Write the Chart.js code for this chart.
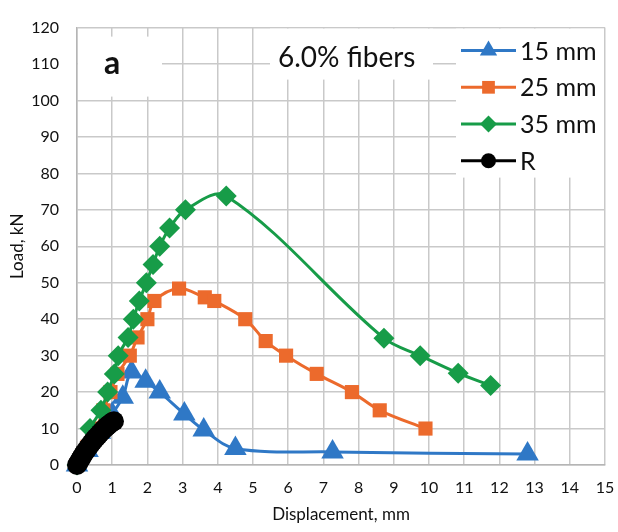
<!DOCTYPE html>
<html>
<head>
<meta charset="utf-8">
<script src="https://cdn.jsdelivr.net/npm/chart.js@4.4.1/dist/chart.umd.min.js"></script>
<style>
  html, body { margin: 0; padding: 0; background: #fff; }
  canvas { display: block; }
</style>
</head>
<body>
<canvas id="loadChart" width="618" height="532"></canvas>
<script>
// Load vs displacement, 6.0% fibers
var x15 = [0, 0.3, 0.65, 1.0, 1.3, 1.55, 1.95, 2.35, 3.05, 3.6, 4.5, 7.26, 12.8];
var y15 = [0, 4, 9, 14, 18.6, 25.5, 23, 20, 14, 9.6, 4.5, 3.6, 3.0];

var x25 = [0, 0.3, 0.55, 0.75, 0.95, 1.15, 1.5, 1.72, 2.0, 2.2, 2.9, 3.63, 3.9, 4.78, 5.36, 5.94, 6.81, 7.81, 8.6, 9.9];
var y25 = [0, 5, 10, 15, 20, 25, 30, 35, 40, 45, 48.4, 46, 45, 40, 34, 30, 25, 20, 15, 10];

var x35 = [0, 0.37, 0.68, 0.87, 1.06, 1.17, 1.45, 1.6, 1.77, 1.97, 2.16, 2.35, 2.63, 3.08, 4.24, 8.72, 9.75, 10.83, 11.75];
var y35 = [0, 10, 15, 20, 25, 30, 35, 40, 45, 50, 55, 60, 65, 70, 73.8, 34.8, 30, 25.2, 21.8];

var xR = [0, 0.04, 0.08, 0.12, 0.16, 0.2, 0.25, 0.3, 0.35, 0.4, 0.45, 0.5, 0.55, 0.6, 0.65, 0.7, 0.75, 0.8, 0.85, 0.9, 0.95, 1.0, 1.05];
var yR = [0, 0.6, 1.3, 1.9, 2.6, 3.2, 3.9, 4.6, 5.2, 5.9, 6.5, 7.1, 7.6, 8.1, 8.7, 9.2, 9.7, 10.2, 10.6, 11.0, 11.4, 11.8, 12.0];

var seriesNames = ['15 mm', '25 mm', '35 mm', 'R'];
var xTicks = [0, 15, 1];     // min, max, step
var yTicks = [0, 120, 10];

var BLUE = '#2f78c6', ORANGE = '#ec6a2c', GREEN = '#179c48', BLACK = '#000000';
var FONT = 'Lato, "Open Sans", sans-serif';

function pts(xs, ys) {
    var out = [];
    xs.forEach((x, i) => out.push({x: x, y: ys[i]}));
    return out;
}

function series(label, xs, ys, color, style, radius, order) {
    return {
        label: label,
        data: pts(xs, ys),
        showLine: true,
        borderColor: color,
        backgroundColor: color,
        borderWidth: 3,
        tension: 0.35,
        pointStyle: style,
        pointRadius: radius,
        pointHoverRadius: radius,
        pointBorderWidth: 0,
        clip: false,
        order: order
    };
}

var legendItems = [
    {name: seriesNames[0], color: BLUE, style: 'triangle', r: 10},
    {name: seriesNames[1], color: ORANGE, style: 'rect', r: 9},
    {name: seriesNames[2], color: GREEN, style: 'rectRot', r: 8.5},
    {name: seriesNames[3], color: BLACK, style: 'circle', r: 7.5}
];

// white boxes, caption, panel letter and legend inside the plot area
var overlay = {
    id: 'overlay',
    afterDatasetsDraw(chart) {
        var ctx = chart.ctx, a = chart.chartArea;
        ctx.save();
        ctx.fillStyle = '#ffffff';
        ctx.fillRect(a.left + 1, a.top + 9, 84, 60);       // "a"
        ctx.fillRect(a.left + 193, a.top + 1, 163, 51);    // caption
        ctx.fillRect(a.right - 149, a.top + 1, 148, 149);  // legend

        ctx.fillStyle = '#111';
        ctx.textBaseline = 'middle';
        ctx.textAlign = 'left';
        ctx.font = 'bold 32px ' + FONT;
        ctx.fillText('a', a.left + 27, a.top + 36);
        ctx.font = '28px ' + FONT;
        ctx.fillText('6.0% fibers', a.left + 201, a.top + 30);

        ctx.font = '25px ' + FONT;
        legendItems.forEach((it, i) => {
            var y = a.top + 23 + i * 36.7;
            var x0 = a.right - 144, x1 = a.right - 89;
            ctx.strokeStyle = it.color;
            ctx.lineWidth = 3;
            ctx.beginPath();
            ctx.moveTo(x0, y);
            ctx.lineTo(x1, y);
            ctx.stroke();
            ctx.fillStyle = it.color;
            Chart.helpers.drawPoint(ctx, {pointStyle: it.style, radius: it.r, borderWidth: 0}, (x0 + x1) / 2, y);
            ctx.fillStyle = '#111';
            ctx.fillText(it.name, x1 + 4, y + 1);
        });
        ctx.restore();
    }
};

new Chart(document.getElementById('loadChart'), {
    type: 'scatter',
    data: {
        datasets: [
            series(seriesNames[0], x15, y15, BLUE, 'triangle', 13, 4),
            series(seriesNames[1], x25, y25, ORANGE, 'rect', 10, 3),
            series(seriesNames[2], x35, y35, GREEN, 'rectRot', 10.5, 2),
            series(seriesNames[3], xR, yR, BLACK, 'circle', 10, 1)
        ]
    },
    options: {
        responsive: false,
        devicePixelRatio: 1,
        animation: false,
        layout: {padding: {top: 23, right: 11, left: 0, bottom: 0}},
        plugins: {legend: {display: false}, tooltip: {enabled: false}},
        scales: {
            x: {
                type: 'linear',
                min: xTicks[0], max: xTicks[1],
                ticks: {stepSize: xTicks[2], color: '#111', padding: 13, font: {family: FONT, size: 16}},
                grid: {color: '#c9c9c9', lineWidth: 1.5, drawTicks: false},
                border: {color: '#b5b5b5', width: 1.5},
                title: {display: true, text: 'Displacement, mm', color: '#111', font: {family: FONT, size: 17}, padding: {top: 0, bottom: 7}},
                afterFit(s) { s.height = 67; s.paddingLeft = 0; s.paddingRight = 0; }
            },
            y: {
                type: 'linear',
                min: yTicks[0], max: yTicks[1],
                ticks: {stepSize: yTicks[2], color: '#111', padding: 18, font: {family: FONT, size: 16}},
                grid: {color: '#c9c9c9', lineWidth: 1.5, drawTicks: false},
                border: {color: '#b5b5b5', width: 1.5},
                title: {display: true, text: 'Load, kN', color: '#111', font: {family: FONT, size: 17}, padding: {top: 7, bottom: 0}},
                afterFit(s) { s.width = 77; }
            }
        }
    },
    plugins: [overlay]
});
</script>
</body>
</html>
